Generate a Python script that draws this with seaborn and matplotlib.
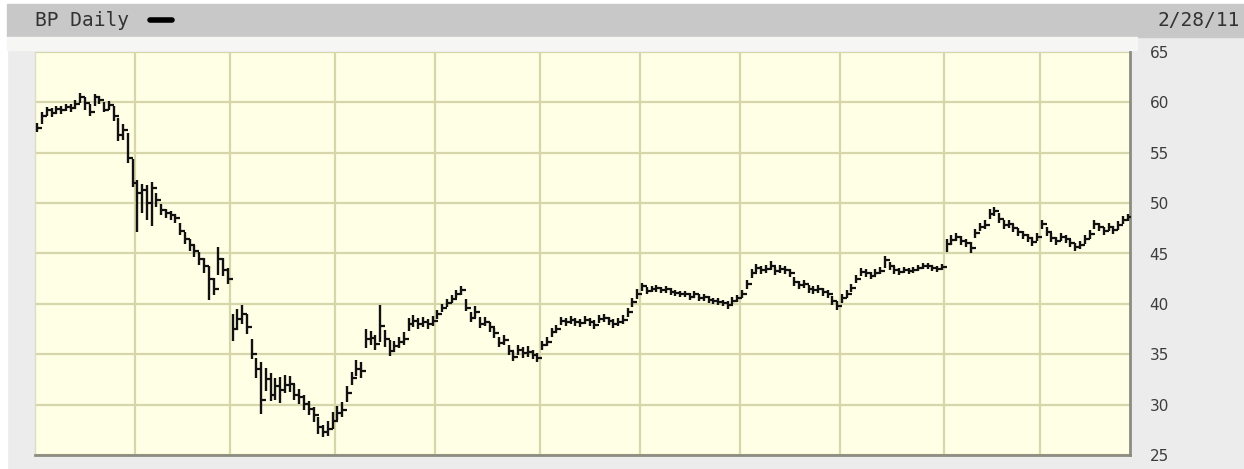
import matplotlib.pyplot as plt
import numpy as np
import pandas as pd
import seaborn as sns
from matplotlib.lines import Line2D
from matplotlib.patches import Rectangle

# NYSE holidays in the window (trading-day axis)
holidays = ["2010-04-02", "2010-05-31", "2010-07-05", "2010-09-06",
            "2010-11-25", "2010-12-24", "2011-01-17", "2011-02-21"]

# daily close / high / low, one line per month (Apr 2010 .. Feb 2011)
close = [
    57.5, 58.6, 59.2, 58.9, 59.3, 59.2, 59.5, 59.4, 59.8, 60.5, 59.9, 59.0, 60.5, 60.2, 59.2, 59.7, 58.6, 56.8, 57.3, 54.5, 52.0,
    51.0, 51.3, 50.0, 51.5, 50.3, 49.3, 49.0, 48.8, 48.5, 47.2, 46.4, 45.8, 45.2, 44.5, 43.8, 42.5, 41.5, 44.5, 43.4, 42.5,
    37.5, 38.5, 39.0, 37.7, 35.0, 33.5, 30.5, 32.5, 31.0, 31.8, 31.5, 31.9, 32.0, 31.0, 30.8, 30.1, 29.6, 29.0, 27.8, 27.3, 27.6, 28.4,
    29.2, 29.5, 31.2, 32.6, 33.5, 33.3, 36.5, 36.6, 36.0, 37.8, 36.5, 35.3, 35.8, 36.2, 36.5, 38.0, 38.3, 38.0, 38.2, 38.0, 38.3,
    39.0, 39.6, 40.1, 40.5, 41.0, 41.4, 39.6, 38.6, 39.2, 38.0, 38.2, 37.7, 37.1, 36.1, 36.4, 35.3, 34.7, 35.4, 35.1, 35.2, 34.9, 34.6,
    35.9, 36.2, 37.2, 37.5, 38.3, 38.2, 38.4, 38.2, 38.1, 38.4, 38.2, 37.9, 38.5, 38.6, 38.3, 38.0, 38.2, 38.4, 39.2, 40.2, 41.0,
    41.8, 41.3, 41.5, 41.6, 41.4, 41.5, 41.2, 41.1, 41.0, 41.0, 40.7, 41.0, 40.6, 40.7, 40.4, 40.3, 40.2, 40.1, 39.9, 40.3, 40.6,
    41.0, 42.0, 43.1, 43.6, 43.4, 43.5, 43.8, 43.3, 43.5, 43.4, 43.1, 42.2, 41.9, 42.0, 41.5, 41.4, 41.5, 41.2, 41.0, 40.3, 39.8,
    40.6, 41.0, 41.6, 42.5, 43.2, 43.1, 42.8, 43.1, 43.3, 44.4, 43.8, 43.4, 43.2, 43.4, 43.3, 43.4, 43.6, 43.8, 43.8, 43.6, 43.5, 43.7,
    45.9, 46.3, 46.6, 46.2, 46.0, 45.5, 47.0, 47.6, 47.8, 48.9, 49.2, 48.4, 47.8, 47.9, 47.5, 47.1, 46.8, 46.5, 46.1, 46.6,
    47.9, 47.1, 46.5, 46.2, 46.6, 46.4, 46.0, 45.6, 45.8, 46.4, 46.9, 47.9, 47.6, 47.2, 47.6, 47.3, 47.8, 48.3, 48.6,
]
high = [
    58.0, 59.0, 59.5, 59.4, 59.6, 59.6, 59.8, 59.8, 60.2, 60.9, 60.5, 59.8, 60.8, 60.6, 60.0, 60.1, 59.6, 58.4, 57.9, 57.0, 54.4,
    52.3, 51.9, 51.8, 52.1, 51.0, 49.9, 49.4, 49.2, 48.9, 48.0, 47.1, 46.4, 45.8, 45.1, 44.6, 43.8, 42.6, 45.6, 44.6, 43.6,
    39.0, 39.5, 39.9, 39.0, 36.5, 34.6, 34.2, 33.6, 33.1, 32.6, 32.7, 32.9, 32.8, 32.0, 31.6, 31.0, 30.4, 29.8, 28.8, 28.0, 28.4, 29.3,
    29.9, 30.3, 31.8, 33.2, 34.4, 34.2, 37.5, 37.3, 36.9, 39.9, 37.4, 36.4, 36.3, 36.7, 37.2, 38.6, 38.9, 38.6, 38.7, 38.5, 38.8,
    39.4, 40.0, 40.5, 40.9, 41.4, 41.8, 40.5, 39.2, 39.8, 38.7, 38.7, 38.2, 37.6, 36.7, 36.9, 35.9, 35.3, 35.9, 35.7, 35.8, 35.4, 35.1,
    36.3, 36.7, 37.6, 37.9, 38.7, 38.6, 38.8, 38.6, 38.5, 38.8, 38.6, 38.4, 38.9, 39.0, 38.7, 38.5, 38.6, 38.9, 39.6, 40.6, 41.5,
    42.1, 41.7, 41.8, 41.9, 41.7, 41.8, 41.6, 41.4, 41.3, 41.3, 41.1, 41.3, 41.0, 41.0, 40.8, 40.6, 40.6, 40.4, 40.3, 40.7, 40.9,
    41.4, 42.4, 43.5, 44.0, 43.8, 43.9, 44.3, 43.7, 43.9, 43.8, 43.5, 42.7, 42.3, 42.4, 41.9, 41.8, 41.9, 41.6, 41.4, 40.8, 40.3,
    41.0, 41.4, 42.0, 42.9, 43.6, 43.5, 43.2, 43.5, 43.7, 44.8, 44.2, 43.8, 43.6, 43.7, 43.6, 43.7, 43.9, 44.1, 44.1, 43.9, 43.8, 44.0,
    46.4, 46.8, 47.0, 46.7, 46.4, 46.1, 47.4, 48.0, 48.3, 49.4, 49.6, 49.0, 48.3, 48.3, 47.9, 47.5, 47.2, 46.9, 46.6, 47.0,
    48.3, 47.6, 47.0, 46.6, 47.0, 46.8, 46.4, 46.0, 46.2, 46.8, 47.3, 48.3, 48.0, 47.6, 48.0, 47.7, 48.2, 48.7, 48.9,
]
low = [
    57.1, 57.9, 58.6, 58.5, 58.8, 58.8, 59.1, 59.0, 59.3, 59.9, 59.2, 58.6, 59.6, 59.8, 59.0, 59.2, 58.2, 56.2, 56.3, 54.0, 51.6,
    47.1, 49.0, 48.3, 47.7, 49.6, 48.8, 48.5, 48.3, 48.0, 46.8, 45.9, 45.2, 44.7, 43.9, 43.1, 40.4, 40.9, 42.9, 42.8, 42.0,
    36.3, 37.4, 38.0, 37.0, 34.5, 32.6, 29.1, 31.4, 30.4, 30.5, 30.2, 31.2, 31.3, 30.5, 30.1, 29.5, 29.0, 28.3, 27.1, 26.8, 26.9, 27.6,
    28.5, 28.8, 30.3, 31.9, 32.8, 32.6, 35.6, 35.9, 35.4, 36.2, 35.7, 34.8, 35.2, 35.6, 35.9, 37.3, 37.7, 37.5, 37.7, 37.5, 37.8,
    38.5, 39.2, 39.7, 40.1, 40.6, 40.9, 39.3, 38.2, 38.6, 37.6, 37.8, 37.2, 36.6, 35.7, 35.9, 34.9, 34.3, 34.9, 34.6, 34.7, 34.5, 34.2,
    35.4, 35.8, 36.7, 37.1, 37.9, 37.8, 38.0, 37.8, 37.7, 38.0, 37.8, 37.5, 38.1, 38.2, 37.9, 37.6, 37.8, 38.0, 38.7, 39.7, 40.5,
    41.3, 41.0, 41.2, 41.2, 41.1, 41.1, 40.9, 40.8, 40.7, 40.7, 40.4, 40.6, 40.3, 40.3, 40.1, 40.0, 39.9, 39.8, 39.5, 40.0, 40.2,
    40.6, 41.5, 42.6, 43.2, 43.0, 43.1, 43.4, 42.9, 43.1, 43.0, 42.7, 41.8, 41.5, 41.6, 41.1, 41.0, 41.1, 40.8, 40.6, 39.9, 39.4,
    40.1, 40.6, 41.2, 42.1, 42.8, 42.7, 42.5, 42.8, 43.0, 43.6, 43.4, 43.0, 42.9, 43.1, 43.0, 43.1, 43.3, 43.5, 43.5, 43.3, 43.2, 43.4,
    45.1, 45.8, 46.2, 45.8, 45.6, 45.0, 46.5, 47.2, 47.4, 48.4, 48.7, 48.0, 47.4, 47.5, 47.1, 46.7, 46.4, 46.1, 45.7, 46.2,
    47.4, 46.7, 46.1, 45.8, 46.2, 46.0, 45.6, 45.2, 45.4, 45.9, 46.4, 47.4, 47.2, 46.8, 47.2, 46.9, 47.3, 47.9, 48.2,
]
price_ticks = [25, 30, 35, 40, 45, 50, 55, 60, 65]
title = "BP Daily"
date_label = "2/28/11"

days = pd.bdate_range("2010-04-01", "2011-02-28", freq="C", holidays=holidays)
df = pd.DataFrame({"date": days, "close": close, "high": high, "low": low})
df["idx"] = np.arange(len(df))
month_starts = df.groupby(df["date"].dt.to_period("M"))["idx"].min().values

sns.set_theme(style="white")
W, H = 1244, 469
fig = plt.figure(figsize=(W / 100, H / 100), dpi=100, facecolor="#ececec")

# header band
fig.patches.append(Rectangle((0, 0), 7 / W, 1, transform=fig.transFigure, color="white", zorder=-2))
fig.patches.append(Rectangle((0, 1 - 4 / H), 1, 4 / H, transform=fig.transFigure, color="white", zorder=-2))
fig.patches.append(Rectangle((7 / W, 1 - 37 / H), 1, 33 / H, transform=fig.transFigure, color="#c8c8c8", zorder=-1))
fig.patches.append(Rectangle((7 / W, 1 - 50 / H), 1130 / W, 13 / H, transform=fig.transFigure, color="#f6f6f4", zorder=-1))
fig.text(35 / W, 1 - 21 / H, title, family="DejaVu Sans Mono", size=14, va="center", color="#333333")
fig.lines.append(Line2D([150 / W, 172 / W], [1 - 20 / H] * 2, lw=4, color="black", transform=fig.transFigure))
fig.text(1240 / W, 1 - 21 / H, date_label, family="DejaVu Sans Mono", size=14, va="center", ha="right", color="#333333")

ax = fig.add_axes([35 / W, 1 - 455 / H, 1095 / W, 403 / H])
ax.set_facecolor("#ffffe6")

ax.vlines(df["idx"], df["low"], df["high"], color="#111111", lw=1.7, zorder=3)
sns.scatterplot(data=df, x="idx", y="close", marker=1, s=14, color="#111111",
                linewidth=1.6, ax=ax, zorder=3, legend=False)

ax.set_xlim(-0.5, len(df) - 0.5)
ax.set_ylim(25, 65)
ax.set_xticks(month_starts[1:] - 0.5)
ax.set_yticks(price_ticks)
ax.grid(True, color="#d6d6aa", lw=1.6, zorder=0)
ax.set_axisbelow(True)
ax.set_xticklabels([])
ax.set_xlabel("")
ax.set_ylabel("")
ax.yaxis.tick_right()
ax.tick_params(axis="both", length=0)
ax.tick_params(axis="y", pad=14, labelsize=11, labelcolor="#3c3c3c")

for side in ["right", "bottom"]:
    ax.spines[side].set_color("#8c8c80")
    ax.spines[side].set_linewidth(2)
ax.spines["left"].set_color("#dcdcc8")
ax.spines["left"].set_linewidth(1)
ax.spines["top"].set_visible(False)

fig.savefig("out.png", dpi=100, facecolor=fig.get_facecolor())
